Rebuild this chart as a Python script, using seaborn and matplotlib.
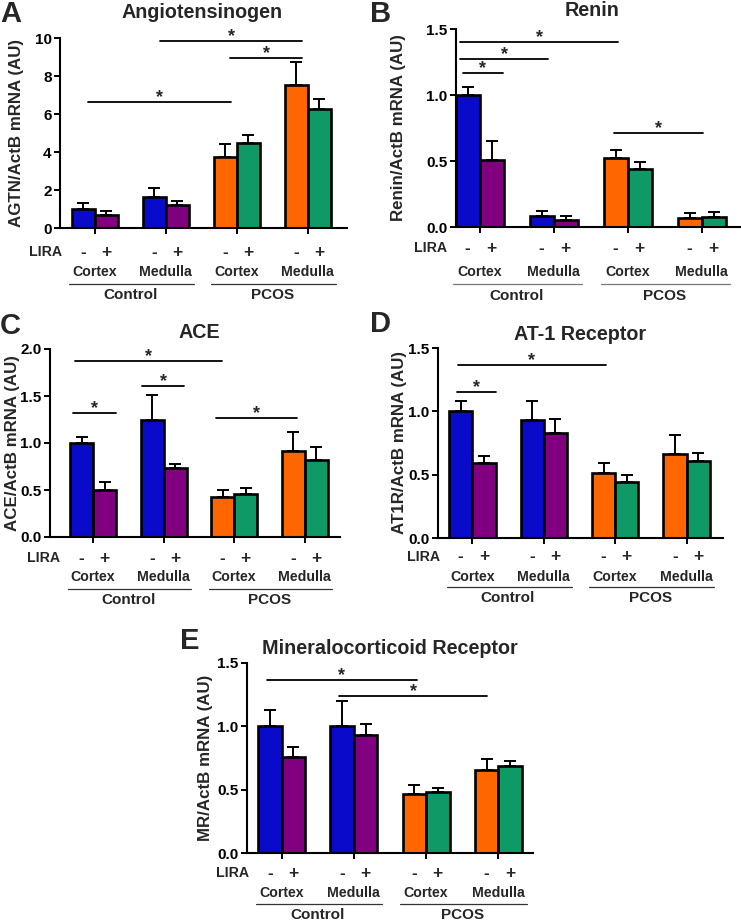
import numpy as np
import pandas as pd
import matplotlib
matplotlib.use('Agg')
import matplotlib.pyplot as plt
import matplotlib.transforms as mtransforms
import seaborn as sns

# ============================================================================
# DATA
# bar order: Ctrl Cx -, Ctrl Cx +, Ctrl Med -, Ctrl Med +, PCOS Cx -, PCOS Cx +, PCOS Med -, PCOS Med +
# ============================================================================

groups = ['Control Cortex', 'Control Medulla', 'PCOS Cortex', 'PCOS Medulla']
tissues = ['Cortex', 'Medulla', 'Cortex', 'Medulla']
lira = ['-', '+']

agtn_mean = [1.00, 0.68, 1.65, 1.21, 3.75, 4.48, 7.50, 6.27]
agtn_top = [1.33, 0.91, 2.08, 1.42, 4.41, 4.89, 8.74, 6.81]

renin_mean = [1.00, 0.505, 0.086, 0.056, 0.52, 0.44, 0.068, 0.076]
renin_top = [1.06, 0.65, 0.124, 0.086, 0.58, 0.49, 0.106, 0.11]

ace_mean = [1.00, 0.50, 1.24, 0.73, 0.43, 0.46, 0.92, 0.82]
ace_top = [1.06, 0.59, 1.51, 0.78, 0.50, 0.52, 1.12, 0.96]

at1r_mean = [1.00, 0.59, 0.93, 0.83, 0.51, 0.44, 0.66, 0.61]
at1r_top = [1.08, 0.65, 1.08, 0.94, 0.59, 0.50, 0.81, 0.67]

mr_mean = [1.00, 0.756, 1.005, 0.93, 0.465, 0.478, 0.656, 0.688]
mr_top = [1.13, 0.835, 1.20, 1.02, 0.54, 0.51, 0.74, 0.727]

# significance bars: (x start, x end, y) in group units / data units
agtn_sig = [(0.92, 2.92, 9.84), (1.90, 2.92, 8.97), (-0.10, 1.92, 6.64)]
renin_sig = [(-0.26, 1.87, 1.40), (-0.26, 0.92, 1.27), (-0.23, 0.32, 1.17), (1.82, 3.02, 0.71)]
ace_sig = [(-0.25, 1.83, 1.876), (0.70, 1.29, 1.61), (-0.28, 0.32, 1.32), (1.74, 2.89, 1.27)]
at1r_sig = [(-0.20, 1.87, 1.363), (-0.21, 0.33, 1.153)]
mr_sig = [(-0.20, 1.87, 1.365), (0.80, 2.84, 1.24)]

# colours: Control -/+ and PCOS -/+
col_ctrl = ['#0a0acb', '#800080']
col_pcos = ['#ff6600', '#0f9966']

# ============================================================================
# FIGURE
# ============================================================================

sns.set_style('ticks')
plt.rcParams['font.family'] = ['Liberation Sans', 'DejaVu Sans']
plt.rcParams['font.weight'] = 'bold'
plt.rcParams['axes.labelweight'] = 'bold'

W, H = 741, 922
fig = plt.figure(figsize=(W / 100, H / 100), dpi=100)


def px_axes(l, t, r, b):
    return fig.add_axes([l / W, 1 - b / H, (r - l) / W, (b - t) / H])


def below(ax, dx, dy):
    # x in data, y = axis bottom shifted down by dy pixels
    return mtransforms.offset_copy(ax.get_xaxis_transform(), fig=fig, x=dx, y=-dy, units='dots')


def panel(box, mean, top, ylim, yticks, yfmt, xlim, ylabel, ylab_x, title, title_xy,
          letter, letter_xy, offs, sig, uline_col):
    ax = px_axes(*box)
    df = pd.DataFrame({'group': np.repeat(groups, 2), 'LIRA': lira * 4, 'value': mean})
    sns.barplot(data=df, x='group', y='value', hue='LIRA', order=groups, hue_order=lira,
                width=0.65, palette=col_ctrl, edgecolor='black', linewidth=1.9,
                errorbar=None, legend=False, ax=ax)

    bar_conts = list(ax.containers)
    centers = []
    for j, cont in enumerate(bar_conts):
        for i, bar in enumerate(cont.patches):
            k = i * 2 + j
            bar.set_facecolor(col_ctrl[j] if i < 2 else col_pcos[j])
            x = bar.get_x() + bar.get_width() / 2
            h = bar.get_height()
            centers.append((k, x))
            ax.errorbar(x, h, yerr=[[0], [top[k] - h]], fmt='none', ecolor='black',
                        elinewidth=1.4, capsize=4.5, capthick=1.4, zorder=3)
    centers = [x for _, x in sorted(centers)]

    ax.set_xlim(*xlim)
    ax.set_ylim(*ylim)
    ax.set_yticks(yticks)
    ax.set_yticklabels([yfmt.format(v) for v in yticks])
    ax.set_xticks(range(4))
    ax.set_xticklabels([])
    ax.set_xlabel('')
    ax.set_ylabel(ylabel, fontsize=12.2, fontweight='bold')
    ax.yaxis.set_label_coords(ylab_x, 0.5)
    ax.tick_params(axis='both', direction='out', length=4, width=1.4, labelsize=11,
                   colors='black', pad=2)
    for s in ['left', 'bottom']:
        ax.spines[s].set_linewidth(1.5)
        ax.spines[s].set_color('black')
    sns.despine(ax=ax)

    # significance lines
    for x1, x2, y in sig:
        ax.plot([x1, x2], [y, y], color='black', lw=1.3, clip_on=False)
        ax.annotate('*', xy=((x1 + x2) / 2, y), xytext=(0, -3), textcoords='offset points',
                    ha='center', va='bottom', fontsize=13, fontweight='bold', annotation_clip=False)

    # labels under the axis
    d_pm, d_tis, d_line, d_grp = offs
    for k, x in enumerate(centers):
        ax.text(x, 0, lira[k % 2], transform=below(ax, 0, d_pm), ha='center', va='center',
                fontsize=12.5, fontweight='bold')
    ax.text(centers[0], 0, 'LIRA', transform=below(ax, -21, d_pm), ha='right', va='center',
            fontsize=10.2, fontweight='bold')
    for g, t in enumerate(tissues):
        ax.text(g, 0, t, transform=below(ax, 0, d_tis), ha='center', va='center',
                fontsize=10.2, fontweight='bold')
    for g0, name in [(0, 'Control'), (2, 'PCOS')]:
        ax.plot([g0 - 0.36, g0 + 1.39], [0, 0], transform=below(ax, 0, d_line),
                color=uline_col, lw=0.9, clip_on=False)
        ax.text(g0 + 0.5, 0, name, transform=below(ax, 0, d_grp), ha='center', va='center',
                fontsize=11, fontweight='bold')

    fig.text(title_xy[0] / W, 1 - title_xy[1] / H, title, ha='center', va='center',
             fontsize=14.2, fontweight='bold')
    fig.text(letter_xy[0] / W, 1 - letter_xy[1] / H, letter, ha='left', va='top',
             fontsize=21, fontweight='bold')
    return ax


panel((60, 38, 347, 228), agtn_mean, agtn_top, (0, 10), [0, 2, 4, 6, 8, 10], '{:.0f}',
      (-0.49, 3.55), 'AGTN/ActB mRNA (AU)', -0.125, 'Angiotensinogen', (202, 13),
      'A', (0, 0), (24, 44, 56, 67), agtn_sig, '#333333')

panel((456, 29, 740, 227), renin_mean, renin_top, (0, 1.5), [0, 0.5, 1.0, 1.5], '{:.1f}',
      (-0.32, 3.52), 'Renin/ActB mRNA (AU)', -0.175, 'Renin', (592, 10),
      'B', (370, 0), (21, 45, 57, 69), renin_sig, '#777777')

panel((50, 349, 340, 537), ace_mean, ace_top, (0, 2.0), [0, 0.5, 1.0, 1.5, 2.0], '{:.1f}',
      (-0.61, 3.5), 'ACE/ActB mRNA (AU)', -0.105, 'ACE', (199, 332),
      'C', (0, 312), (21, 40, 52, 63), ace_sig, '#333333')

panel((438, 348, 723, 538), at1r_mean, at1r_top, (0, 1.5), [0, 0.5, 1.0, 1.5], '{:.1f}',
      (-0.48, 3.51), 'AT1R/ActB mRNA (AU)', -0.108, 'AT-1 Receptor', (580, 335),
      'D', (370, 310), (19, 39, 49, 60), at1r_sig, '#333333')

panel((247, 663, 533, 853), mr_mean, mr_top, (0, 1.5), [0, 0.5, 1.0, 1.5], '{:.1f}',
      (-0.48, 3.48), 'MR/ActB mRNA (AU)', -0.12, 'Mineralocorticoid Receptor', (390, 648),
      'E', (180, 627), (20, 40, 51, 62), mr_sig, '#333333')

fig.savefig('out.png', dpi=100)
print("saved out.png")
